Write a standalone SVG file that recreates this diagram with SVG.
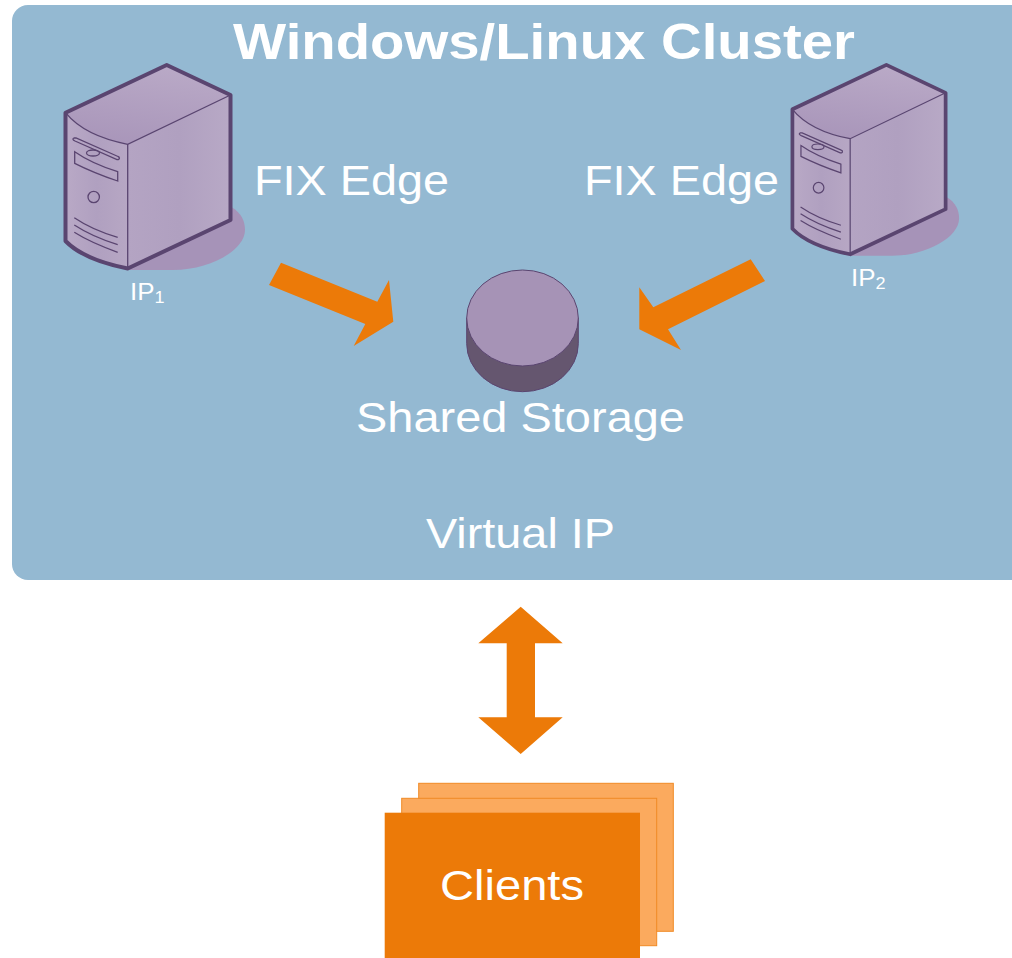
<svg xmlns="http://www.w3.org/2000/svg" xmlns:xlink="http://www.w3.org/1999/xlink" width="1012" height="958" viewBox="0 0 1012 958">
<style>
text{font-family:"Liberation Sans",Arial,sans-serif;fill:#fff}
.lbl{font-size:43px}
.ip{font-size:23px}
.ar{fill:#ec7a08}
.back{fill:#fbaa5e;stroke:#f08a25;stroke-width:1}
.thick{fill:none;stroke:#5a4570;stroke-width:4;stroke-linejoin:round}
.thin{fill:none;stroke:#5a4570;stroke-width:1.300}
</style>
<defs>
<linearGradient id="g1" x1="0" y1="0" x2="1" y2="0"><stop offset="0" stop-color="#b4a4c3"/><stop offset="0.5" stop-color="#b0a0c0"/><stop offset="1" stop-color="#b8a9c6"/></linearGradient>
<linearGradient id="g2" x1="0" y1="0" x2="1" y2="0"><stop offset="0" stop-color="#b9a9c6"/><stop offset="0.5" stop-color="#b0a0c0"/><stop offset="1" stop-color="#b7a7c4"/></linearGradient>
<linearGradient id="g3" x1="0.7" y1="0" x2="0.4" y2="1"><stop offset="0" stop-color="#baaac7"/><stop offset="1" stop-color="#a996ba"/></linearGradient>
<g id="server">
<path d="M231 206.700C242 213 245 222 245 230C245 250 210 270 173 270L127.700 270Z" fill="#a693b8"/>
<path d="M65.500 112.700L166.700 65L230.500 95L127.700 144.300C100 139 78 128 65.500 112.700Z" fill="url(#g3)"/>
<path d="M65.500 112.700C78 128 100 139 127.700 144.300L127.700 268.500C100 263 78 254 65.500 241Z" fill="url(#g2)"/>
<path d="M127.700 144.300L230.500 95L230.500 220L127.700 268.500Z" fill="url(#g1)"/>
<path class="thin" d="M65.500 112.700C78 128 100 139 127.700 144.300L230.500 95M127.700 144.300L127.700 268.500"/>
<path class="thick" d="M65.500 112.700L166.700 65L230.500 95L230.500 220L127.700 268.500C100 263 78 254 65.500 241Z"/>
<path class="thin" d="M74 138C72 139 73 140 75 141L117 159.500C120 160 120 157 118 156.500L76 138Z"/>
<ellipse class="thin" cx="93" cy="153" rx="6.500" ry="3" fill="#b5a4c3"/>
<path class="thin" d="M74.700 151.700C88 161 103 167 117.700 171.700L117.700 181C103 176 88 170 74.700 163.300Z" fill="#a794b8"/>
<circle class="thin" cx="93.700" cy="197" r="5.700"/>
<path class="thin" d="M74.300 217.700C88 227 103 233 117.700 237.300M74.300 225C88 234 103 240 117.700 244.700M74.300 232.300C88 241 103 247 117.700 252.300"/>
</g>
</defs>
<g id="cluster">
<rect x="12" y="5" width="1030" height="575" rx="16" fill="#94b9d2"/>
<text x="233" y="58.500" font-size="50" font-weight="700" textLength="622" lengthAdjust="spacingAndGlyphs">Windows/Linux Cluster</text>
</g>
<g id="server1"><use xlink:href="#server" href="#server"/><text class="ip" transform="translate(130 300) scale(1.130 1)">IP<tspan font-size="16" dy="3">1</tspan></text></g>
<g id="server2"><use xlink:href="#server" href="#server" transform="translate(731.600 4.400) scale(0.9285 0.9307)"/><text class="ip" transform="translate(851 286) scale(1.130 1)">IP<tspan font-size="16" dy="3">2</tspan></text></g>
<g id="label1"><text class="lbl" x="254" y="195" textLength="195" lengthAdjust="spacingAndGlyphs">FIX Edge</text></g>
<g id="label2"><text class="lbl" x="584" y="195" textLength="195" lengthAdjust="spacingAndGlyphs">FIX Edge</text></g>
<g id="storage">
<path d="M466.700 318L466.700 343.700A55.800 48 0 0 0 578.300 343.700L578.300 318Z" fill="#65566f" stroke="#5a4570"/>
<ellipse cx="522.500" cy="318" rx="55.800" ry="48" fill="#a693b6" stroke="#5a4570"/>
<text class="lbl" x="356" y="432" textLength="329" lengthAdjust="spacingAndGlyphs">Shared Storage</text>
</g>
<g id="vip"><text class="lbl" x="426" y="548" textLength="189" lengthAdjust="spacingAndGlyphs">Virtual IP</text></g>
<g id="connectors">
<polygon class="ar" points="281,262.700 377.300,301.700 389,280 393.300,321.700 353.700,346 365.300,324 269,285"/>
<polygon class="ar" points="750.700,259.300 765,281 668,329.300 681,350 639.300,329.300 639.300,287.300 653.300,307.300"/>
<polygon class="ar" points="520.700,606.700 562.700,643.300 535,643.300 535,717.300 562.700,717.300 520.700,754 478.300,717.300 506.700,717.300 506.700,643.300 478.300,643.300"/>
</g>
<g id="clients">
<rect class="back" x="418.700" y="783.300" width="254.600" height="148"/>
<rect class="back" x="401.700" y="798.300" width="255" height="147.400"/>
<rect x="384.700" y="812.700" width="255.300" height="146" fill="#ec7a08"/>
<text class="lbl" x="440" y="900" textLength="144" lengthAdjust="spacingAndGlyphs">Clients</text>
</g>
</svg>
